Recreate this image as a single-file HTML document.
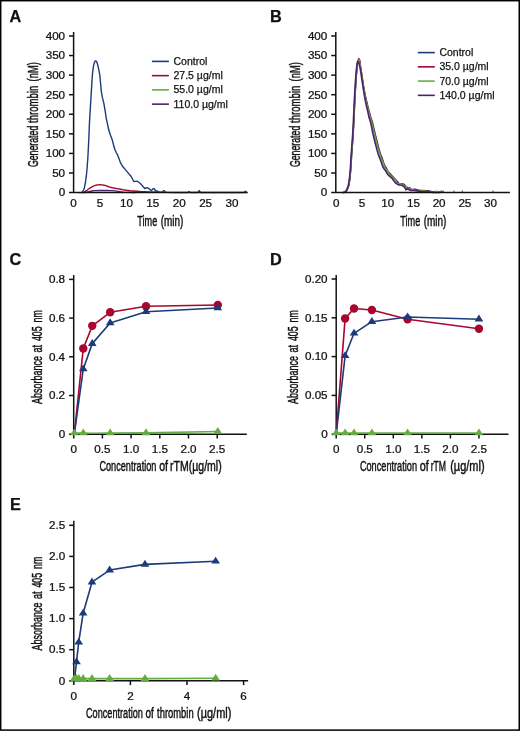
<!DOCTYPE html><html><head><meta charset="utf-8"><style>html,body{margin:0;padding:0;background:#fff;}svg{display:block;will-change:transform;}text{font-family:"Liberation Sans", sans-serif;stroke:#111;stroke-width:0.25px;paint-order:stroke;} text.ttl{stroke-width:0.45px;}</style></head><body>
<svg width="520" height="731" viewBox="0 0 520 731">
<rect x="0" y="0" width="520" height="731" fill="#fff"/>
<text x="9.6" y="21.6" font-size="16.3" text-anchor="start" font-weight="bold" fill="#111" >A</text>
<text x="38.0" y="167.1" font-size="14" text-anchor="start" textLength="41.4" lengthAdjust="spacingAndGlyphs" class="ttl" transform="rotate(-90 38.0 167.1)" fill="#111" >Generated</text>
<text x="38.0" y="122.9" font-size="14" text-anchor="start" textLength="37.2" lengthAdjust="spacingAndGlyphs" class="ttl" transform="rotate(-90 38.0 122.9)" fill="#111" >thrombin</text>
<text x="38.0" y="81.4" font-size="14" text-anchor="start" textLength="19.2" lengthAdjust="spacingAndGlyphs" class="ttl" transform="rotate(-90 38.0 81.4)" fill="#111" >(nM)</text>
<text x="137.3" y="225.8" font-size="14" text-anchor="start" textLength="19.9" lengthAdjust="spacingAndGlyphs" class="ttl" fill="#111" >Time</text>
<text x="160.7" y="225.8" font-size="14" text-anchor="start" textLength="22.7" lengthAdjust="spacingAndGlyphs" class="ttl" fill="#111" >(min)</text>
<polyline points="84.00,192.60 86.10,192.40 89.00,191.70 92.00,191.00 94.10,190.70 100.00,190.50 106.00,190.50 112.60,190.70 117.00,191.20 121.00,191.80 124.10,192.30 135.00,192.50" fill="none" stroke="#4c2170" stroke-width="1.3" stroke-linejoin="round" stroke-linecap="round"/>
<polyline points="82.00,192.60 83.80,192.40 86.50,190.70 89.50,188.30 92.00,186.80 94.10,185.80 96.00,185.20 97.60,184.90 100.00,184.80 102.20,184.90 104.00,185.20 105.70,185.70 108.00,186.50 110.30,187.20 112.50,187.80 114.90,188.30 117.00,188.60 119.50,189.00 123.00,189.70 126.40,190.30 130.00,190.70 133.40,191.00 140.00,191.50 148.00,191.90 160.00,192.30" fill="none" stroke="#a8062f" stroke-width="1.4" stroke-linejoin="round" stroke-linecap="round"/>
<polyline points="80.00,192.60 81.50,192.40 82.60,191.80 83.70,189.70 84.40,187.70 85.50,182.00 86.30,176.20 87.10,168.20 88.00,155.20 88.80,139.40 89.40,124.40 90.20,110.20 91.20,93.70 92.00,80.20 92.50,73.70 93.20,67.70 94.00,63.70 95.00,61.20 95.90,60.80 96.80,62.00 97.80,65.20 99.00,70.70 99.80,75.20 100.50,82.20 101.20,90.70 102.30,97.20 103.80,103.20 105.20,111.20 106.30,118.70 107.60,124.40 108.70,129.80 110.30,134.70 112.10,139.40 113.50,144.70 114.80,149.20 116.20,152.50 117.70,155.20 119.20,159.20 120.50,162.70 122.30,166.00 125.20,169.40 128.10,172.90 131.00,176.30 132.50,179.00 133.80,181.50 135.50,181.40 137.30,181.20 139.50,182.80 141.30,184.40 143.00,186.50 144.80,188.50 146.20,187.80 147.70,187.90 149.20,188.80 150.20,189.60 151.20,190.40 152.20,189.70 153.40,188.60 154.40,188.80 155.20,190.40 155.80,190.80 157.50,191.10 158.20,191.80 159.00,192.10 162.00,192.30 162.80,191.20 163.80,190.50 164.80,191.20 165.80,192.40 174.00,192.50 187.80,192.50 189.00,191.50 190.20,192.50 197.80,192.50 199.20,190.60 200.60,192.50 244.20,192.50 245.40,191.20 246.60,192.50" fill="none" stroke="#1b3b7a" stroke-width="1.4" stroke-linejoin="round" stroke-linecap="round"/>
<line x1="73.6" y1="32" x2="73.6" y2="192.6" stroke="#111" stroke-width="1.5"/>
<line x1="69.0" y1="192.6" x2="247.7" y2="192.6" stroke="#111" stroke-width="1.5"/>
<g transform="translate(65.1 196.4) scale(1.1 1)">
<text x="0" y="0" font-size="10.6" text-anchor="end" fill="#111" >0</text>
</g>
<line x1="69.0" y1="173.01999999999998" x2="73.6" y2="173.01999999999998" stroke="#111" stroke-width="1.5"/>
<g transform="translate(65.1 176.82) scale(1.1 1)">
<text x="0" y="0" font-size="10.6" text-anchor="end" fill="#111" >50</text>
</g>
<line x1="69.0" y1="153.44" x2="73.6" y2="153.44" stroke="#111" stroke-width="1.5"/>
<g transform="translate(65.1 157.24) scale(1.1 1)">
<text x="0" y="0" font-size="10.6" text-anchor="end" fill="#111" >100</text>
</g>
<line x1="69.0" y1="133.86" x2="73.6" y2="133.86" stroke="#111" stroke-width="1.5"/>
<g transform="translate(65.1 137.66000000000003) scale(1.1 1)">
<text x="0" y="0" font-size="10.6" text-anchor="end" fill="#111" >150</text>
</g>
<line x1="69.0" y1="114.28" x2="73.6" y2="114.28" stroke="#111" stroke-width="1.5"/>
<g transform="translate(65.1 118.08) scale(1.1 1)">
<text x="0" y="0" font-size="10.6" text-anchor="end" fill="#111" >200</text>
</g>
<line x1="69.0" y1="94.7" x2="73.6" y2="94.7" stroke="#111" stroke-width="1.5"/>
<g transform="translate(65.1 98.5) scale(1.1 1)">
<text x="0" y="0" font-size="10.6" text-anchor="end" fill="#111" >250</text>
</g>
<line x1="69.0" y1="75.12" x2="73.6" y2="75.12" stroke="#111" stroke-width="1.5"/>
<g transform="translate(65.1 78.92) scale(1.1 1)">
<text x="0" y="0" font-size="10.6" text-anchor="end" fill="#111" >300</text>
</g>
<line x1="69.0" y1="55.53999999999999" x2="73.6" y2="55.53999999999999" stroke="#111" stroke-width="1.5"/>
<g transform="translate(65.1 59.33999999999999) scale(1.1 1)">
<text x="0" y="0" font-size="10.6" text-anchor="end" fill="#111" >350</text>
</g>
<line x1="69.0" y1="35.96000000000001" x2="73.6" y2="35.96000000000001" stroke="#111" stroke-width="1.5"/>
<g transform="translate(65.1 39.760000000000005) scale(1.1 1)">
<text x="0" y="0" font-size="10.6" text-anchor="end" fill="#111" >400</text>
</g>
<g transform="translate(73.6 206.6) scale(1.1 1)">
<text x="0" y="0" font-size="10.6" text-anchor="middle" fill="#111" >0</text>
</g>
<g transform="translate(100.0 206.6) scale(1.1 1)">
<text x="0" y="0" font-size="10.6" text-anchor="middle" fill="#111" >5</text>
</g>
<g transform="translate(126.39999999999999 206.6) scale(1.1 1)">
<text x="0" y="0" font-size="10.6" text-anchor="middle" fill="#111" >10</text>
</g>
<g transform="translate(152.79999999999998 206.6) scale(1.1 1)">
<text x="0" y="0" font-size="10.6" text-anchor="middle" fill="#111" >15</text>
</g>
<g transform="translate(179.2 206.6) scale(1.1 1)">
<text x="0" y="0" font-size="10.6" text-anchor="middle" fill="#111" >20</text>
</g>
<g transform="translate(205.6 206.6) scale(1.1 1)">
<text x="0" y="0" font-size="10.6" text-anchor="middle" fill="#111" >25</text>
</g>
<g transform="translate(231.99999999999997 206.6) scale(1.1 1)">
<text x="0" y="0" font-size="10.6" text-anchor="middle" fill="#111" >30</text>
</g>
<line x1="151.9" y1="61.4" x2="168.9" y2="61.4" stroke="#1b3b7a" stroke-width="1.6"/>
<text x="173.5" y="64.8" font-size="10.5" text-anchor="start" fill="#111" >Control</text>
<line x1="151.9" y1="75.65" x2="168.9" y2="75.65" stroke="#a8062f" stroke-width="1.6"/>
<text x="173.5" y="79.05000000000001" font-size="10.5" text-anchor="start" fill="#111" >27.5 µg/ml</text>
<line x1="151.9" y1="89.9" x2="168.9" y2="89.9" stroke="#66ac44" stroke-width="1.6"/>
<text x="173.5" y="93.30000000000001" font-size="10.5" text-anchor="start" fill="#111" >55.0 µg/ml</text>
<line x1="151.9" y1="104.15" x2="168.9" y2="104.15" stroke="#4c2170" stroke-width="1.6"/>
<text x="173.5" y="107.55000000000001" font-size="10.5" text-anchor="start" fill="#111" >110.0 µg/ml</text>
<text x="269.9" y="21.6" font-size="16.3" text-anchor="start" font-weight="bold" fill="#111" >B</text>
<text x="300.2" y="167.1" font-size="14" text-anchor="start" textLength="41.4" lengthAdjust="spacingAndGlyphs" class="ttl" transform="rotate(-90 300.2 167.1)" fill="#111" >Generated</text>
<text x="300.2" y="122.9" font-size="14" text-anchor="start" textLength="37.2" lengthAdjust="spacingAndGlyphs" class="ttl" transform="rotate(-90 300.2 122.9)" fill="#111" >thrombin</text>
<text x="300.2" y="81.4" font-size="14" text-anchor="start" textLength="19.2" lengthAdjust="spacingAndGlyphs" class="ttl" transform="rotate(-90 300.2 81.4)" fill="#111" >(nM)</text>
<text x="400.3" y="225.8" font-size="14" text-anchor="start" textLength="19.9" lengthAdjust="spacingAndGlyphs" class="ttl" fill="#111" >Time</text>
<text x="423.7" y="225.8" font-size="14" text-anchor="start" textLength="22.7" lengthAdjust="spacingAndGlyphs" class="ttl" fill="#111" >(min)</text>
<polyline points="343.52,192.40 345.02,192.40 345.92,191.80 347.32,189.60 348.82,185.60 350.02,178.20 351.02,166.80 351.62,155.80 352.42,145.20 353.22,134.00 353.82,123.00 354.32,112.10 354.82,101.20 355.42,90.20 356.02,80.20 356.82,70.20 357.72,61.89 359.05,59.20 359.85,60.79 360.43,65.85 361.53,72.53 362.23,77.34 363.23,83.99 364.25,90.10 365.31,95.36 366.48,100.60 367.84,106.26 369.31,111.75 370.67,116.97 372.53,122.33 373.80,128.00 375.06,133.37 376.40,138.66 377.80,144.18 379.10,149.35 380.50,154.05 381.60,156.51 382.70,159.68 383.80,163.24 384.90,165.81 386.10,167.64 387.30,170.09 388.70,172.26 390.20,173.64 392.20,175.85 394.20,178.09 395.70,179.82 397.10,181.10 398.60,183.11 400.00,184.37 402.10,184.07 404.00,184.09 405.50,186.04 406.90,187.12 408.00,188.68 409.80,187.68 411.30,189.57 412.70,189.79 415.10,189.30 417.80,190.03 421.10,190.89 424.80,190.64 428.10,190.75 432.10,191.78 436.10,192.08 442.10,191.43" fill="none" stroke="#1b3b7a" stroke-width="1.4" stroke-linejoin="round" stroke-linecap="round"/>
<polyline points="343.40,192.40 344.90,192.40 345.80,191.80 347.20,189.60 348.70,185.60 349.90,178.20 350.90,166.80 351.50,155.80 352.30,145.20 353.10,134.00 353.70,123.00 354.20,112.10 354.70,101.20 355.30,90.20 355.90,80.20 356.70,70.20 357.60,61.44 358.80,58.60 359.60,60.28 360.28,65.65 361.38,72.44 362.08,77.40 363.08,84.13 364.07,90.08 365.10,95.31 366.22,100.74 367.55,106.39 368.97,111.72 370.30,117.00 372.12,122.52 373.35,128.10 374.57,133.35 375.90,138.77 377.30,144.39 378.60,149.41 380.00,153.81 381.10,156.85 382.20,160.06 383.30,163.04 384.40,165.71 385.60,168.09 386.80,170.30 388.20,171.98 389.70,173.73 391.70,176.34 393.70,178.10 395.20,179.56 396.60,181.39 398.10,183.53 399.50,184.21 401.60,183.92 403.50,184.52 405.00,186.30 406.40,186.85 407.50,188.71 409.30,188.17 410.80,189.64 412.20,189.51 414.60,189.53 417.30,190.48 420.60,190.77 424.30,190.45 427.60,191.15 431.60,192.09 435.60,191.83 441.60,191.40" fill="none" stroke="#a8062f" stroke-width="1.4" stroke-linejoin="round" stroke-linecap="round"/>
<polyline points="343.35,192.40 344.85,192.40 345.75,191.80 347.15,189.60 348.65,185.60 349.85,178.20 350.85,166.80 351.45,155.80 352.25,145.20 353.05,134.00 353.65,123.00 354.15,112.10 354.65,101.20 355.25,90.20 355.85,80.20 356.65,70.20 357.55,62.19 358.70,59.60 359.50,61.13 360.22,65.92 361.32,72.40 362.02,77.59 363.02,84.19 364.00,89.94 365.01,95.37 366.12,100.95 367.43,106.39 368.84,111.63 370.15,117.17 371.96,122.73 373.17,128.06 374.38,133.36 375.70,139.02 377.10,144.54 378.40,149.34 379.80,153.87 380.90,157.51 382.00,160.05 383.10,162.60 384.20,166.05 385.40,168.66 386.60,170.03 388.00,171.70 389.50,174.30 391.50,176.70 393.50,177.67 395.00,179.54 396.40,182.05 397.90,183.60 399.30,183.75 401.40,184.19 403.30,185.13 404.80,186.10 406.20,186.52 407.30,189.23 409.10,188.60 410.60,189.24 412.00,189.41 414.40,190.18 417.10,190.64 420.40,190.31 424.10,190.64 427.40,191.79 431.40,191.96 435.40,191.44 441.40,191.85" fill="none" stroke="#66ac44" stroke-width="1.4" stroke-linejoin="round" stroke-linecap="round"/>
<polyline points="343.00,192.60 344.50,192.40 345.40,191.80 346.80,189.60 348.30,185.60 349.50,178.20 350.50,166.80 351.10,155.80 351.90,145.20 352.70,134.00 353.30,123.00 353.80,112.10 354.30,101.20 354.90,90.20 355.50,80.20 356.30,70.20 357.20,63.40 358.00,61.20 358.80,62.50 359.80,66.70 360.90,72.70 361.60,77.70 362.60,84.20 363.50,90.20 364.40,95.70 365.40,101.10 366.60,106.60 367.90,112.10 369.10,117.60 370.80,123.00 371.90,128.50 373.00,134.00 374.30,139.50 375.70,144.90 377.00,149.90 378.40,154.80 379.50,157.70 380.60,160.20 381.70,163.50 382.80,166.80 384.00,168.70 385.20,170.40 386.60,172.70 388.10,174.80 390.10,176.70 392.10,178.30 393.60,180.50 395.00,182.30 396.50,183.70 397.90,184.60 400.00,185.00 401.90,185.20 403.40,186.40 404.80,187.50 405.90,189.80 407.70,188.60 409.20,189.80 410.60,190.40 413.00,190.50 415.70,190.70 419.00,191.10 422.70,191.50 426.00,191.90 430.00,192.20 434.00,192.40 440.00,192.50" fill="none" stroke="#4c2170" stroke-width="1.6" stroke-linejoin="round" stroke-linecap="round"/>
<line x1="335.79999999999995" y1="32" x2="335.79999999999995" y2="192.6" stroke="#111" stroke-width="1.5"/>
<line x1="331.19999999999993" y1="192.6" x2="509.9" y2="192.6" stroke="#111" stroke-width="1.5"/>
<g transform="translate(327.29999999999995 196.4) scale(1.1 1)">
<text x="0" y="0" font-size="10.6" text-anchor="end" fill="#111" >0</text>
</g>
<line x1="331.19999999999993" y1="173.01999999999998" x2="335.79999999999995" y2="173.01999999999998" stroke="#111" stroke-width="1.5"/>
<g transform="translate(327.29999999999995 176.82) scale(1.1 1)">
<text x="0" y="0" font-size="10.6" text-anchor="end" fill="#111" >50</text>
</g>
<line x1="331.19999999999993" y1="153.44" x2="335.79999999999995" y2="153.44" stroke="#111" stroke-width="1.5"/>
<g transform="translate(327.29999999999995 157.24) scale(1.1 1)">
<text x="0" y="0" font-size="10.6" text-anchor="end" fill="#111" >100</text>
</g>
<line x1="331.19999999999993" y1="133.86" x2="335.79999999999995" y2="133.86" stroke="#111" stroke-width="1.5"/>
<g transform="translate(327.29999999999995 137.66000000000003) scale(1.1 1)">
<text x="0" y="0" font-size="10.6" text-anchor="end" fill="#111" >150</text>
</g>
<line x1="331.19999999999993" y1="114.28" x2="335.79999999999995" y2="114.28" stroke="#111" stroke-width="1.5"/>
<g transform="translate(327.29999999999995 118.08) scale(1.1 1)">
<text x="0" y="0" font-size="10.6" text-anchor="end" fill="#111" >200</text>
</g>
<line x1="331.19999999999993" y1="94.7" x2="335.79999999999995" y2="94.7" stroke="#111" stroke-width="1.5"/>
<g transform="translate(327.29999999999995 98.5) scale(1.1 1)">
<text x="0" y="0" font-size="10.6" text-anchor="end" fill="#111" >250</text>
</g>
<line x1="331.19999999999993" y1="75.12" x2="335.79999999999995" y2="75.12" stroke="#111" stroke-width="1.5"/>
<g transform="translate(327.29999999999995 78.92) scale(1.1 1)">
<text x="0" y="0" font-size="10.6" text-anchor="end" fill="#111" >300</text>
</g>
<line x1="331.19999999999993" y1="55.53999999999999" x2="335.79999999999995" y2="55.53999999999999" stroke="#111" stroke-width="1.5"/>
<g transform="translate(327.29999999999995 59.33999999999999) scale(1.1 1)">
<text x="0" y="0" font-size="10.6" text-anchor="end" fill="#111" >350</text>
</g>
<line x1="331.19999999999993" y1="35.96000000000001" x2="335.79999999999995" y2="35.96000000000001" stroke="#111" stroke-width="1.5"/>
<g transform="translate(327.29999999999995 39.760000000000005) scale(1.1 1)">
<text x="0" y="0" font-size="10.6" text-anchor="end" fill="#111" >400</text>
</g>
<g transform="translate(336.19999999999993 206.6) scale(1.1 1)">
<text x="0" y="0" font-size="10.6" text-anchor="middle" fill="#111" >0</text>
</g>
<g transform="translate(361.92999999999995 206.6) scale(1.1 1)">
<text x="0" y="0" font-size="10.6" text-anchor="middle" fill="#111" >5</text>
</g>
<g transform="translate(387.6599999999999 206.6) scale(1.1 1)">
<text x="0" y="0" font-size="10.6" text-anchor="middle" fill="#111" >10</text>
</g>
<g transform="translate(413.38999999999993 206.6) scale(1.1 1)">
<text x="0" y="0" font-size="10.6" text-anchor="middle" fill="#111" >15</text>
</g>
<g transform="translate(439.11999999999995 206.6) scale(1.1 1)">
<text x="0" y="0" font-size="10.6" text-anchor="middle" fill="#111" >20</text>
</g>
<g transform="translate(464.8499999999999 206.6) scale(1.1 1)">
<text x="0" y="0" font-size="10.6" text-anchor="middle" fill="#111" >25</text>
</g>
<g transform="translate(490.5799999999999 206.6) scale(1.1 1)">
<text x="0" y="0" font-size="10.6" text-anchor="middle" fill="#111" >30</text>
</g>
<line x1="417.8" y1="52.6" x2="434.8" y2="52.6" stroke="#1b3b7a" stroke-width="1.6"/>
<text x="439.40000000000003" y="56.0" font-size="10.5" text-anchor="start" fill="#111" >Control</text>
<line x1="417.8" y1="66.85" x2="434.8" y2="66.85" stroke="#a8062f" stroke-width="1.6"/>
<text x="439.40000000000003" y="70.25" font-size="10.5" text-anchor="start" fill="#111" >35.0 µg/ml</text>
<line x1="417.8" y1="81.1" x2="434.8" y2="81.1" stroke="#66ac44" stroke-width="1.6"/>
<text x="439.40000000000003" y="84.5" font-size="10.5" text-anchor="start" fill="#111" >70.0 µg/ml</text>
<line x1="417.8" y1="95.35" x2="434.8" y2="95.35" stroke="#4c2170" stroke-width="1.6"/>
<text x="439.40000000000003" y="98.75" font-size="10.5" text-anchor="start" fill="#111" >140.0 µg/ml</text>
<rect x="425.79999999999995" y="190.6" width="1.2" height="1.2" fill="#a8062f"/>
<rect x="436.4" y="190.6" width="1.2" height="1.2" fill="#66ac44"/>
<rect x="442.7" y="190.6" width="1.2" height="1.2" fill="#4c2170"/>
<rect x="453.29999999999995" y="190.6" width="1.2" height="1.2" fill="#a8062f"/>
<rect x="461.79999999999995" y="190.6" width="1.2" height="1.2" fill="#4c2170"/>
<rect x="492.4" y="190.6" width="1.2" height="1.2" fill="#4c2170"/>
<text x="9.6" y="264.8" font-size="16.3" text-anchor="start" font-weight="bold" fill="#111" >C</text>
<line x1="73.7" y1="275.0" x2="73.7" y2="434.2" stroke="#111" stroke-width="1.5"/>
<line x1="69.10000000000001" y1="434.2" x2="73.7" y2="434.2" stroke="#111" stroke-width="1.5"/>
<g transform="translate(65.10000000000001 437.9) scale(1.1 1)">
<text x="0" y="0" font-size="10.6" text-anchor="end" fill="#111" >0</text>
</g>
<line x1="69.10000000000001" y1="395.5" x2="73.7" y2="395.5" stroke="#111" stroke-width="1.5"/>
<g transform="translate(65.10000000000001 399.2) scale(1.1 1)">
<text x="0" y="0" font-size="10.6" text-anchor="end" fill="#111" >0.2</text>
</g>
<line x1="69.10000000000001" y1="356.79999999999995" x2="73.7" y2="356.79999999999995" stroke="#111" stroke-width="1.5"/>
<g transform="translate(65.10000000000001 360.49999999999994) scale(1.1 1)">
<text x="0" y="0" font-size="10.6" text-anchor="end" fill="#111" >0.4</text>
</g>
<line x1="69.10000000000001" y1="318.09999999999997" x2="73.7" y2="318.09999999999997" stroke="#111" stroke-width="1.5"/>
<g transform="translate(65.10000000000001 321.79999999999995) scale(1.1 1)">
<text x="0" y="0" font-size="10.6" text-anchor="end" fill="#111" >0.6</text>
</g>
<line x1="69.10000000000001" y1="279.4" x2="73.7" y2="279.4" stroke="#111" stroke-width="1.5"/>
<g transform="translate(65.10000000000001 283.09999999999997) scale(1.1 1)">
<text x="0" y="0" font-size="10.6" text-anchor="end" fill="#111" >0.8</text>
</g>
<line x1="73.7" y1="434.2" x2="246.8" y2="434.2" stroke="#111" stroke-width="1.5"/>
<line x1="73.7" y1="434.2" x2="73.7" y2="438.5" stroke="#111" stroke-width="1.5"/>
<g transform="translate(73.7 452.6) scale(1.1 1)">
<text x="0" y="0" font-size="10.6" text-anchor="middle" fill="#111" >0</text>
</g>
<line x1="102.4" y1="434.2" x2="102.4" y2="438.5" stroke="#111" stroke-width="1.5"/>
<g transform="translate(102.4 452.6) scale(1.1 1)">
<text x="0" y="0" font-size="10.6" text-anchor="middle" fill="#111" >0.5</text>
</g>
<line x1="131.1" y1="434.2" x2="131.1" y2="438.5" stroke="#111" stroke-width="1.5"/>
<g transform="translate(131.1 452.6) scale(1.1 1)">
<text x="0" y="0" font-size="10.6" text-anchor="middle" fill="#111" >1.0</text>
</g>
<line x1="159.8" y1="434.2" x2="159.8" y2="438.5" stroke="#111" stroke-width="1.5"/>
<g transform="translate(159.8 452.6) scale(1.1 1)">
<text x="0" y="0" font-size="10.6" text-anchor="middle" fill="#111" >1.5</text>
</g>
<line x1="188.5" y1="434.2" x2="188.5" y2="438.5" stroke="#111" stroke-width="1.5"/>
<g transform="translate(188.5 452.6) scale(1.1 1)">
<text x="0" y="0" font-size="10.6" text-anchor="middle" fill="#111" >2.0</text>
</g>
<line x1="217.2" y1="434.2" x2="217.2" y2="438.5" stroke="#111" stroke-width="1.5"/>
<g transform="translate(217.2 452.6) scale(1.1 1)">
<text x="0" y="0" font-size="10.6" text-anchor="middle" fill="#111" >2.5</text>
</g>
<polyline points="74.30,434.20 83.27,348.48 92.24,325.84 110.17,312.29 146.05,306.30 217.80,304.94" fill="none" stroke="#a8062f" stroke-width="1.6" stroke-linejoin="round" stroke-linecap="round"/>
<circle cx="83.27" cy="348.48" r="4.2" fill="#a8062f"/>
<circle cx="92.24" cy="325.84" r="4.2" fill="#a8062f"/>
<circle cx="110.17" cy="312.29" r="4.2" fill="#a8062f"/>
<circle cx="146.05" cy="306.30" r="4.2" fill="#a8062f"/>
<circle cx="217.80" cy="304.94" r="4.2" fill="#a8062f"/>
<polyline points="74.30,434.20 83.27,368.99 92.24,343.64 110.17,322.94 146.05,311.71 217.80,308.04" fill="none" stroke="#1b3b7a" stroke-width="1.6" stroke-linejoin="round" stroke-linecap="round"/>
<polygon points="83.27,364.39 78.92,371.29 87.62,371.29" fill="#1b3b7a"/>
<polygon points="92.24,339.04 87.89,345.94 96.59,345.94" fill="#1b3b7a"/>
<polygon points="110.17,318.34 105.83,325.24 114.52,325.24" fill="#1b3b7a"/>
<polygon points="146.05,307.11 141.70,314.01 150.40,314.01" fill="#1b3b7a"/>
<polygon points="217.80,303.44 213.45,310.34 222.15,310.34" fill="#1b3b7a"/>
<polyline points="74.30,433.04 83.27,433.04 92.24,433.23 110.17,433.04 146.05,432.85 217.80,431.49" fill="none" stroke="#66ac44" stroke-width="1.6" stroke-linejoin="round" stroke-linecap="round"/>
<polygon points="74.30,428.44 69.95,435.34 78.65,435.34" fill="#66ac44"/>
<polygon points="83.27,428.44 78.92,435.34 87.62,435.34" fill="#66ac44"/>
<polygon points="110.17,428.44 105.83,435.34 114.52,435.34" fill="#66ac44"/>
<polygon points="146.05,428.25 141.70,435.15 150.40,435.15" fill="#66ac44"/>
<polygon points="217.80,426.89 213.45,433.79 222.15,433.79" fill="#66ac44"/>
<text x="41.9" y="404.0" font-size="14" text-anchor="start" textLength="47.9" lengthAdjust="spacingAndGlyphs" class="ttl" transform="rotate(-90 41.9 404.0)" fill="#111" >Absorbance</text>
<text x="41.9" y="352.5" font-size="14" text-anchor="start" textLength="7.6" lengthAdjust="spacingAndGlyphs" class="ttl" transform="rotate(-90 41.9 352.5)" fill="#111" >at</text>
<text x="41.9" y="341.0" font-size="14" text-anchor="start" textLength="14.6" lengthAdjust="spacingAndGlyphs" class="ttl" transform="rotate(-90 41.9 341.0)" fill="#111" >405</text>
<text x="41.9" y="322.5" font-size="14" text-anchor="start" textLength="12.2" lengthAdjust="spacingAndGlyphs" class="ttl" transform="rotate(-90 41.9 322.5)" fill="#111" >nm</text>
<text x="99.4" y="471.3" font-size="14" text-anchor="start" textLength="57.0" lengthAdjust="spacingAndGlyphs" class="ttl" fill="#111" >Concentration</text>
<text x="159.2" y="471.3" font-size="14" text-anchor="start" textLength="8.9" lengthAdjust="spacingAndGlyphs" class="ttl" fill="#111" >of</text>
<text x="170.0" y="471.3" font-size="14" text-anchor="start" textLength="51.7" lengthAdjust="spacingAndGlyphs" class="ttl" fill="#111" >rTM(µg/ml)</text>
<text x="270.0" y="264.8" font-size="16.3" text-anchor="start" font-weight="bold" fill="#111" >D</text>
<line x1="336.2" y1="275.0" x2="336.2" y2="434.2" stroke="#111" stroke-width="1.5"/>
<line x1="331.59999999999997" y1="434.2" x2="336.2" y2="434.2" stroke="#111" stroke-width="1.5"/>
<g transform="translate(327.59999999999997 437.9) scale(1.1 1)">
<text x="0" y="0" font-size="10.6" text-anchor="end" fill="#111" >0</text>
</g>
<line x1="331.59999999999997" y1="395.4" x2="336.2" y2="395.4" stroke="#111" stroke-width="1.5"/>
<g transform="translate(327.59999999999997 399.09999999999997) scale(1.1 1)">
<text x="0" y="0" font-size="10.6" text-anchor="end" fill="#111" >0.05</text>
</g>
<line x1="331.59999999999997" y1="356.6" x2="336.2" y2="356.6" stroke="#111" stroke-width="1.5"/>
<g transform="translate(327.59999999999997 360.3) scale(1.1 1)">
<text x="0" y="0" font-size="10.6" text-anchor="end" fill="#111" >0.10</text>
</g>
<line x1="331.59999999999997" y1="317.8" x2="336.2" y2="317.8" stroke="#111" stroke-width="1.5"/>
<g transform="translate(327.59999999999997 321.5) scale(1.1 1)">
<text x="0" y="0" font-size="10.6" text-anchor="end" fill="#111" >0.15</text>
</g>
<line x1="331.59999999999997" y1="279.0" x2="336.2" y2="279.0" stroke="#111" stroke-width="1.5"/>
<g transform="translate(327.59999999999997 282.7) scale(1.1 1)">
<text x="0" y="0" font-size="10.6" text-anchor="end" fill="#111" >0.20</text>
</g>
<line x1="336.2" y1="434.2" x2="508.5" y2="434.2" stroke="#111" stroke-width="1.5"/>
<line x1="336.2" y1="434.2" x2="336.2" y2="438.5" stroke="#111" stroke-width="1.5"/>
<g transform="translate(336.2 452.6) scale(1.1 1)">
<text x="0" y="0" font-size="10.6" text-anchor="middle" fill="#111" >0</text>
</g>
<line x1="364.75" y1="434.2" x2="364.75" y2="438.5" stroke="#111" stroke-width="1.5"/>
<g transform="translate(364.75 452.6) scale(1.1 1)">
<text x="0" y="0" font-size="10.6" text-anchor="middle" fill="#111" >0.5</text>
</g>
<line x1="393.3" y1="434.2" x2="393.3" y2="438.5" stroke="#111" stroke-width="1.5"/>
<g transform="translate(393.3 452.6) scale(1.1 1)">
<text x="0" y="0" font-size="10.6" text-anchor="middle" fill="#111" >1.0</text>
</g>
<line x1="421.85" y1="434.2" x2="421.85" y2="438.5" stroke="#111" stroke-width="1.5"/>
<g transform="translate(421.85 452.6) scale(1.1 1)">
<text x="0" y="0" font-size="10.6" text-anchor="middle" fill="#111" >1.5</text>
</g>
<line x1="450.4" y1="434.2" x2="450.4" y2="438.5" stroke="#111" stroke-width="1.5"/>
<g transform="translate(450.4 452.6) scale(1.1 1)">
<text x="0" y="0" font-size="10.6" text-anchor="middle" fill="#111" >2.0</text>
</g>
<line x1="478.95" y1="434.2" x2="478.95" y2="438.5" stroke="#111" stroke-width="1.5"/>
<g transform="translate(478.95 452.6) scale(1.1 1)">
<text x="0" y="0" font-size="10.6" text-anchor="middle" fill="#111" >2.5</text>
</g>
<polyline points="336.20,434.20 345.12,318.42 354.04,308.49 371.89,310.04 407.57,319.20 478.95,328.82" fill="none" stroke="#a8062f" stroke-width="1.6" stroke-linejoin="round" stroke-linecap="round"/>
<circle cx="345.12" cy="318.42" r="4.2" fill="#a8062f"/>
<circle cx="354.04" cy="308.49" r="4.2" fill="#a8062f"/>
<circle cx="371.89" cy="310.04" r="4.2" fill="#a8062f"/>
<circle cx="407.57" cy="319.20" r="4.2" fill="#a8062f"/>
<circle cx="478.95" cy="328.82" r="4.2" fill="#a8062f"/>
<polyline points="336.20,434.20 345.12,355.82 354.04,333.32 371.89,321.68 407.57,317.02 478.95,319.20" fill="none" stroke="#1b3b7a" stroke-width="1.6" stroke-linejoin="round" stroke-linecap="round"/>
<polygon points="345.12,351.22 340.77,358.12 349.47,358.12" fill="#1b3b7a"/>
<polygon points="354.04,328.72 349.69,335.62 358.39,335.62" fill="#1b3b7a"/>
<polygon points="371.89,317.08 367.54,323.98 376.24,323.98" fill="#1b3b7a"/>
<polygon points="407.57,312.42 403.22,319.32 411.93,319.32" fill="#1b3b7a"/>
<polygon points="478.95,314.60 474.60,321.50 483.30,321.50" fill="#1b3b7a"/>
<polyline points="336.20,433.04 345.12,433.04 354.04,433.04 371.89,433.04 407.57,433.04 478.95,433.04" fill="none" stroke="#66ac44" stroke-width="1.6" stroke-linejoin="round" stroke-linecap="round"/>
<polygon points="336.20,428.44 331.85,435.34 340.55,435.34" fill="#66ac44"/>
<polygon points="345.12,428.44 340.77,435.34 349.47,435.34" fill="#66ac44"/>
<polygon points="354.04,428.44 349.69,435.34 358.39,435.34" fill="#66ac44"/>
<polygon points="371.89,428.44 367.54,435.34 376.24,435.34" fill="#66ac44"/>
<polygon points="407.57,428.44 403.22,435.34 411.93,435.34" fill="#66ac44"/>
<polygon points="478.95,428.44 474.60,435.34 483.30,435.34" fill="#66ac44"/>
<text x="297.9" y="404.0" font-size="14" text-anchor="start" textLength="47.9" lengthAdjust="spacingAndGlyphs" class="ttl" transform="rotate(-90 297.9 404.0)" fill="#111" >Absorbance</text>
<text x="297.9" y="352.5" font-size="14" text-anchor="start" textLength="7.6" lengthAdjust="spacingAndGlyphs" class="ttl" transform="rotate(-90 297.9 352.5)" fill="#111" >at</text>
<text x="297.9" y="341.0" font-size="14" text-anchor="start" textLength="14.6" lengthAdjust="spacingAndGlyphs" class="ttl" transform="rotate(-90 297.9 341.0)" fill="#111" >405</text>
<text x="297.9" y="322.5" font-size="14" text-anchor="start" textLength="12.2" lengthAdjust="spacingAndGlyphs" class="ttl" transform="rotate(-90 297.9 322.5)" fill="#111" >nm</text>
<text x="359.9" y="471.4" font-size="14" text-anchor="start" textLength="57.1" lengthAdjust="spacingAndGlyphs" class="ttl" fill="#111" >Concentration</text>
<text x="419.8" y="471.4" font-size="14" text-anchor="start" textLength="9.0" lengthAdjust="spacingAndGlyphs" class="ttl" fill="#111" >of</text>
<text x="430.7" y="471.4" font-size="14" text-anchor="start" textLength="15.4" lengthAdjust="spacingAndGlyphs" class="ttl" fill="#111" >rTM</text>
<text x="450.2" y="471.4" font-size="14" text-anchor="start" textLength="34.4" lengthAdjust="spacingAndGlyphs" class="ttl" fill="#111" >(µg/ml)</text>
<text x="10.0" y="510.4" font-size="16.3" text-anchor="start" font-weight="bold" fill="#111" >E</text>
<line x1="73.8" y1="520.8" x2="73.8" y2="680.8" stroke="#111" stroke-width="1.5"/>
<line x1="69.2" y1="680.8" x2="73.8" y2="680.8" stroke="#111" stroke-width="1.5"/>
<g transform="translate(65.2 684.5) scale(1.1 1)">
<text x="0" y="0" font-size="10.6" text-anchor="end" fill="#111" >0</text>
</g>
<line x1="69.2" y1="649.6999999999999" x2="73.8" y2="649.6999999999999" stroke="#111" stroke-width="1.5"/>
<g transform="translate(65.2 653.4) scale(1.1 1)">
<text x="0" y="0" font-size="10.6" text-anchor="end" fill="#111" >0.5</text>
</g>
<line x1="69.2" y1="618.5999999999999" x2="73.8" y2="618.5999999999999" stroke="#111" stroke-width="1.5"/>
<g transform="translate(65.2 622.3) scale(1.1 1)">
<text x="0" y="0" font-size="10.6" text-anchor="end" fill="#111" >1.0</text>
</g>
<line x1="69.2" y1="587.5" x2="73.8" y2="587.5" stroke="#111" stroke-width="1.5"/>
<g transform="translate(65.2 591.2) scale(1.1 1)">
<text x="0" y="0" font-size="10.6" text-anchor="end" fill="#111" >1.5</text>
</g>
<line x1="69.2" y1="556.4" x2="73.8" y2="556.4" stroke="#111" stroke-width="1.5"/>
<g transform="translate(65.2 560.1) scale(1.1 1)">
<text x="0" y="0" font-size="10.6" text-anchor="end" fill="#111" >2.0</text>
</g>
<line x1="69.2" y1="525.3" x2="73.8" y2="525.3" stroke="#111" stroke-width="1.5"/>
<g transform="translate(65.2 529.0) scale(1.1 1)">
<text x="0" y="0" font-size="10.6" text-anchor="end" fill="#111" >2.5</text>
</g>
<line x1="73.8" y1="680.8" x2="248.1" y2="680.8" stroke="#111" stroke-width="1.5"/>
<line x1="73.8" y1="680.8" x2="73.8" y2="685.0999999999999" stroke="#111" stroke-width="1.5"/>
<g transform="translate(73.8 700.0) scale(1.1 1)">
<text x="0" y="0" font-size="10.6" text-anchor="middle" fill="#111" >0</text>
</g>
<line x1="130.4" y1="680.8" x2="130.4" y2="685.0999999999999" stroke="#111" stroke-width="1.5"/>
<g transform="translate(130.4 700.0) scale(1.1 1)">
<text x="0" y="0" font-size="10.6" text-anchor="middle" fill="#111" >2</text>
</g>
<line x1="187.0" y1="680.8" x2="187.0" y2="685.0999999999999" stroke="#111" stroke-width="1.5"/>
<g transform="translate(187.0 700.0) scale(1.1 1)">
<text x="0" y="0" font-size="10.6" text-anchor="middle" fill="#111" >4</text>
</g>
<line x1="243.60000000000002" y1="680.8" x2="243.60000000000002" y2="685.0999999999999" stroke="#111" stroke-width="1.5"/>
<g transform="translate(243.60000000000002 700.0) scale(1.1 1)">
<text x="0" y="0" font-size="10.6" text-anchor="middle" fill="#111" >6</text>
</g>
<polyline points="74.30,680.80 76.51,661.83 78.72,642.24 83.13,613.31 91.97,582.21 109.64,570.08 144.97,564.36 215.65,561.25" fill="none" stroke="#1b3b7a" stroke-width="1.6" stroke-linejoin="round" stroke-linecap="round"/>
<polygon points="76.51,657.23 72.16,664.13 80.86,664.13" fill="#1b3b7a"/>
<polygon points="78.72,637.64 74.37,644.54 83.07,644.54" fill="#1b3b7a"/>
<polygon points="83.13,608.71 78.78,615.61 87.48,615.61" fill="#1b3b7a"/>
<polygon points="91.97,577.61 87.62,584.51 96.32,584.51" fill="#1b3b7a"/>
<polygon points="109.64,565.48 105.29,572.38 113.99,572.38" fill="#1b3b7a"/>
<polygon points="144.97,559.76 140.62,566.66 149.32,566.66" fill="#1b3b7a"/>
<polygon points="215.65,556.65 211.30,563.55 220.00,563.55" fill="#1b3b7a"/>
<polyline points="74.30,678.93 76.51,678.62 78.72,678.62 83.13,678.62 91.97,678.62 109.64,678.62 144.97,678.62 215.65,678.31" fill="none" stroke="#66ac44" stroke-width="1.6" stroke-linejoin="round" stroke-linecap="round"/>
<polygon points="74.30,674.33 69.95,681.23 78.65,681.23" fill="#66ac44"/>
<polygon points="76.51,674.02 72.16,680.92 80.86,680.92" fill="#66ac44"/>
<polygon points="78.72,674.02 74.37,680.92 83.07,680.92" fill="#66ac44"/>
<polygon points="83.13,674.02 78.78,680.92 87.48,680.92" fill="#66ac44"/>
<polygon points="91.97,674.02 87.62,680.92 96.32,680.92" fill="#66ac44"/>
<polygon points="109.64,674.02 105.29,680.92 113.99,680.92" fill="#66ac44"/>
<polygon points="144.97,674.02 140.62,680.92 149.32,680.92" fill="#66ac44"/>
<polygon points="215.65,673.71 211.30,680.61 220.00,680.61" fill="#66ac44"/>
<text x="42.0" y="650.5" font-size="14" text-anchor="start" textLength="47.9" lengthAdjust="spacingAndGlyphs" class="ttl" transform="rotate(-90 42.0 650.5)" fill="#111" >Absorbance</text>
<text x="42.0" y="599.0" font-size="14" text-anchor="start" textLength="7.6" lengthAdjust="spacingAndGlyphs" class="ttl" transform="rotate(-90 42.0 599.0)" fill="#111" >at</text>
<text x="42.0" y="587.5" font-size="14" text-anchor="start" textLength="14.6" lengthAdjust="spacingAndGlyphs" class="ttl" transform="rotate(-90 42.0 587.5)" fill="#111" >405</text>
<text x="42.0" y="569.0" font-size="14" text-anchor="start" textLength="12.2" lengthAdjust="spacingAndGlyphs" class="ttl" transform="rotate(-90 42.0 569.0)" fill="#111" >nm</text>
<text x="86.0" y="718.2" font-size="14" text-anchor="start" textLength="56.9" lengthAdjust="spacingAndGlyphs" class="ttl" fill="#111" >Concentration</text>
<text x="145.6" y="718.2" font-size="14" text-anchor="start" textLength="8.3" lengthAdjust="spacingAndGlyphs" class="ttl" fill="#111" >of</text>
<text x="157.1" y="718.2" font-size="14" text-anchor="start" textLength="36.5" lengthAdjust="spacingAndGlyphs" class="ttl" fill="#111" >thrombin</text>
<text x="197.1" y="718.2" font-size="14" text-anchor="start" textLength="34.2" lengthAdjust="spacingAndGlyphs" class="ttl" fill="#111" >(µg/ml)</text>
<rect x="0.7" y="0.7" width="518.55" height="729.4" fill="none" stroke="#000" stroke-width="1.5"/>
</svg></body></html>
